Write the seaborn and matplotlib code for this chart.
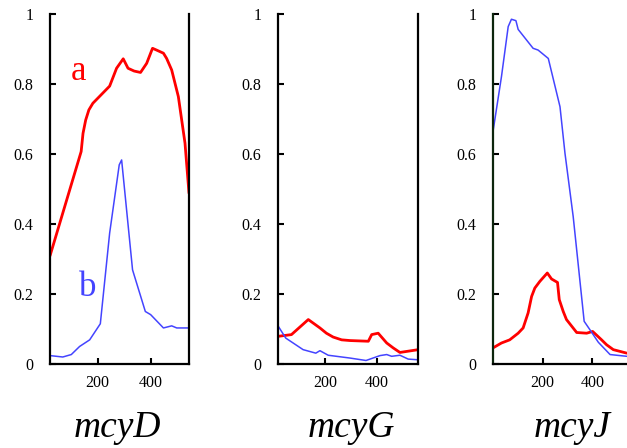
import matplotlib
matplotlib.use("Agg")
import matplotlib.pyplot as plt
import seaborn as sns
import pandas as pd

# ---- data ----
genes = ["mcyD", "mcyG", "mcyJ"]

d_a_x = [21, 138, 145, 155, 167, 182, 245, 271, 296, 314, 337, 361, 384, 406, 421, 447, 459, 478, 503, 528, 543]
d_a_y = [0.309, 0.607, 0.659, 0.697, 0.726, 0.745, 0.794, 0.845, 0.872, 0.845, 0.837, 0.833, 0.859, 0.902, 0.897, 0.888, 0.873, 0.84, 0.764, 0.631, 0.488]
d_b_x = [21, 69, 101, 132, 170, 210, 245, 281, 290, 331, 379, 399, 447, 478, 497, 543]
d_b_y = [0.024, 0.020, 0.027, 0.05, 0.069, 0.115, 0.374, 0.569, 0.583, 0.269, 0.150, 0.141, 0.103, 0.109, 0.103, 0.103]

g_a_x = [19, 71, 136, 181, 206, 232, 265, 297, 368, 381, 406, 439, 464, 490, 561]
g_a_y = [0.079, 0.084, 0.127, 0.103, 0.088, 0.077, 0.069, 0.067, 0.065, 0.084, 0.088, 0.06, 0.046, 0.033, 0.041]
g_b_x = [19, 49, 116, 165, 181, 213, 297, 359, 413, 439, 458, 490, 522, 561]
g_b_y = [0.109, 0.074, 0.041, 0.031, 0.038, 0.025, 0.017, 0.010, 0.024, 0.027, 0.022, 0.025, 0.014, 0.012]

j_a_x = [1, 35, 68, 102, 122, 142, 156, 169, 189, 219, 236, 260, 267, 283, 296, 317, 337, 377, 401, 437, 457, 484, 538]
j_a_y = [0.046, 0.06, 0.069, 0.088, 0.103, 0.146, 0.193, 0.217, 0.236, 0.260, 0.243, 0.233, 0.184, 0.150, 0.127, 0.108, 0.090, 0.088, 0.093, 0.069, 0.055, 0.041, 0.031]
j_b_x = [1, 35, 62, 75, 93, 102, 162, 182, 223, 270, 290, 323, 367, 390, 424, 471, 538]
j_b_y = [0.664, 0.821, 0.964, 0.985, 0.981, 0.956, 0.902, 0.897, 0.873, 0.735, 0.602, 0.421, 0.122, 0.098, 0.062, 0.027, 0.022]

series_labels = ["a", "b"]
y_ticks = [0, 0.2, 0.4, 0.6, 0.8, 1]
y_ticklabels = ["0", "0.2", "0.4", "0.6", "0.8", "1"]
x_ticks = [200, 400]

panels = [
    (d_a_x, d_a_y, d_b_x, d_b_y),
    (g_a_x, g_a_y, g_b_x, g_b_y),
    (j_a_x, j_a_y, j_b_x, j_b_y),
]

# ---- styling ----
sns.set_style("white")
plt.rcParams["font.family"] = ["Liberation Serif", "DejaVu Serif"]
plt.rcParams["text.color"] = "black"
plt.rcParams["xtick.color"] = "black"
plt.rcParams["ytick.color"] = "black"
plt.rcParams["axes.labelcolor"] = "black"

RED = "#ff0000"
BLUE = "#4444ff"

fig = plt.figure(figsize=(6.27, 4.48), dpi=100)

W, H = 627.0, 448.0
bottom = 1 - 364 / H
height = (364 - 14) / H
axes_px = [(50, 189), (278, 418.3), (493, 627)]
xlims = [(21, 543), (19, 561), (1, 539)]
title_x = [117, 351, 572]

for i, ((ax_, ay_, bx_, by_), (l, r)) in enumerate(zip(panels, axes_px)):
    ax = fig.add_axes([l / W, bottom, (r - l) / W, height])
    df = pd.concat([
        pd.DataFrame({"x": ax_, "y": ay_, "s": series_labels[0]}),
        pd.DataFrame({"x": bx_, "y": by_, "s": series_labels[1]}),
    ])
    sns.lineplot(data=df[df.s == "a"], x="x", y="y", ax=ax, color=RED, lw=2.0,
                 legend=False, estimator=None, sort=False)
    sns.lineplot(data=df[df.s == "b"], x="x", y="y", ax=ax, color=BLUE, lw=1.1,
                 legend=False, estimator=None, sort=False)
    ax.set_xlim(*xlims[i])
    ax.set_ylim(0, 1)
    ax.set_xlabel("")
    ax.set_ylabel("")
    ax.set_yticks(y_ticks)
    ax.set_yticklabels(y_ticklabels)
    ax.set_xticks(x_ticks)
    ax.tick_params(axis="y", direction="in", length=4, width=1.5, pad=12,
                   labelsize=11.5, left=True, colors="black")
    ax.tick_params(axis="x", direction="in", length=4, width=1.5, pad=8,
                   labelsize=11.5, bottom=True, colors="black")
    ax.spines["top"].set_visible(False)
    for s in ["left", "bottom", "right"]:
        ax.spines[s].set_linewidth(1.6)
        ax.spines[s].set_color("black")
    if i == 2:
        ax.spines["right"].set_visible(False)
        ax.spines["left"].set_color("#0d260d")
    ax.patch.set_alpha(0)
    for lab in ax.get_xticklabels() + ax.get_yticklabels():
        lab.set_clip_on(False)
    fig.text(title_x[i] / W, 1 - 428 / H, genes[i], ha="center", va="center",
             fontsize=27, style="italic", color="black")

# series labels on the first panel
fig.text(78 / W, 1 - 72 / H, series_labels[0], color=RED, fontsize=25,
         ha="center", va="center")
fig.text(88 / W, 1 - 287 / H, series_labels[1], color=BLUE, fontsize=25,
         ha="center", va="center")

fig.savefig("out.png", dpi=100)
